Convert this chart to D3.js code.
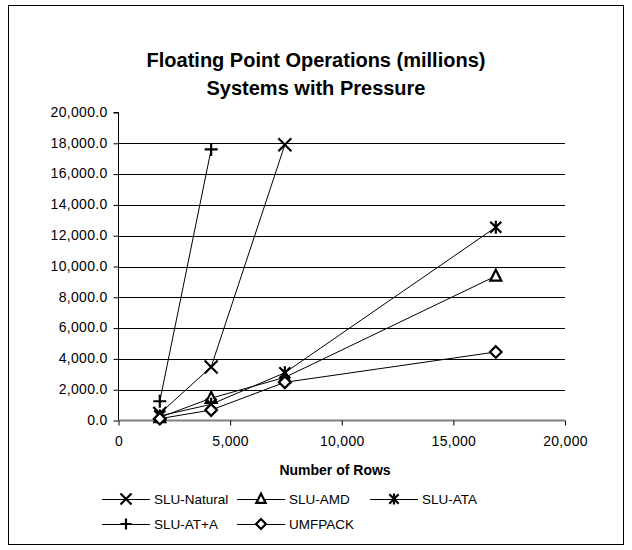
<!DOCTYPE html>
<html>
<head>
<meta charset="utf-8">
<script src="https://cdn.jsdelivr.net/npm/d3@7"></script>
<style>
  html, body { margin: 0; padding: 0; background: #fff; }
  svg { display: block; font-family: "Liberation Sans", Arial, sans-serif; }
</style>
</head>
<body>
<svg id="chart" width="632" height="550"></svg>
<script>
// Number of rows in each test system
const rows = [1850, 4150, 7450, 16900];

// Floating point operations (millions) per ordering; null = not run
const sluNatural = [450, 3480, 17900, null];
const sluAMD     = [200, 1450, 2800, 9380];
const sluATA     = [300, 1050, 3100, 12550];
const sluATplusA = [1250, 17600, null, null];
const umfpack    = [120, 680, 2480, 4450];

const seriesNames = ["SLU-Natural", "SLU-AMD", "SLU-ATA", "SLU-AT+A", "UMFPACK"];
const seriesMarkers = ["x", "triangle", "asterisk", "plus", "diamond"];
const seriesValues = [sluNatural, sluAMD, sluATA, sluATplusA, umfpack];

const xTicks = [0, 5000, 10000, 15000, 20000];
const yTicks = [0, 2000, 4000, 6000, 8000, 10000, 12000, 14000, 16000, 18000, 20000];

const titleLines = ["Floating Point Operations (millions)", "Systems with Pressure"];
const xTitle = "Number of Rows";

const svg = d3.select("#chart");

// outer chart frame
svg.append("rect")
  .attr("x", 8.5).attr("y", 5.5)
  .attr("width", 615).attr("height", 539)
  .attr("fill", "#fff").attr("stroke", "#000").attr("stroke-width", 1);

const plot = { left: 118.5, right: 565, top: 112.5, bottom: 420.5 };

const x = d3.scaleLinear().domain([0, 20000]).range([plot.left, plot.right]);
const y = d3.scaleLinear().domain([0, 20000]).range([plot.bottom, plot.top]);

// title
svg.append("g").selectAll("text").data(titleLines).join("text")
  .attr("x", 316).attr("y", (d, i) => 67 + i * 28)
  .attr("text-anchor", "middle")
  .attr("font-size", 20).attr("font-weight", "bold")
  .text(d => d);

// horizontal gridlines
svg.append("g").selectAll("line").data(yTicks.filter(v => v > 0 && v < 20000)).join("line")
  .attr("x1", plot.left).attr("x2", plot.right)
  .attr("y1", d => Math.round(y(d)) + 0.5).attr("y2", d => Math.round(y(d)) + 0.5)
  .attr("stroke", "#000").attr("stroke-width", 1);

// y axis
const yAxis = d3.axisLeft(y).tickValues(yTicks).tickSize(5).tickPadding(6)
  .tickFormat(d => d3.format(",.1f")(d));
const gy = svg.append("g").attr("transform", `translate(${plot.left},0)`).call(yAxis);
gy.selectAll("text").attr("font-size", 14).attr("fill", "#000")
  .attr("letter-spacing", 0.3).attr("dy", "0.27em")
  .attr("font-family", "Liberation Sans, Arial, sans-serif");
gy.selectAll("line").attr("stroke", "#000");
gy.select(".domain").attr("stroke", "#000").attr("d", `M-5,${plot.top}H0V${plot.bottom}`);

// x axis
const xAxis = d3.axisBottom(x).tickValues(xTicks).tickSize(5).tickPadding(11)
  .tickFormat(d3.format(","));
const gx = svg.append("g").attr("transform", `translate(0,${plot.bottom})`).call(xAxis);
gx.selectAll("text").attr("font-size", 14).attr("fill", "#000")
  .attr("letter-spacing", 0.3)
  .attr("font-family", "Liberation Sans, Arial, sans-serif");
gx.selectAll("line").attr("stroke", "#000");
gx.select(".domain").attr("stroke", "#808080").attr("stroke-width", 2)
  .attr("d", `M${plot.left},0H${plot.right}`);

svg.append("text")
  .attr("x", 335).attr("y", 475)
  .attr("text-anchor", "middle").attr("font-size", 14).attr("font-weight", "bold")
  .text(xTitle);

// marker shapes
function drawMarker(g, type, cx, cy, k) {
  const s = 6.5 * k;
  const st = { stroke: "#000", "stroke-width": 2.2, fill: "none" };
  const apply = sel => { Object.entries(st).forEach(([a, v]) => sel.attr(a, v)); return sel; };
  if (type === "x") {
    apply(g.append("path").attr("d",
      `M${cx - s},${cy - s}L${cx + s},${cy + s}M${cx - s},${cy + s}L${cx + s},${cy - s}`));
  } else if (type === "plus") {
    apply(g.append("path").attr("d",
      `M${cx - s},${cy}L${cx + s},${cy}M${cx},${cy - s}L${cx},${cy + s}`));
  } else if (type === "asterisk") {
    const a = 5.5 * k;
    apply(g.append("path").attr("d",
      `M${cx - a},${cy - a}L${cx + a},${cy + a}M${cx - a},${cy + a}L${cx + a},${cy - a}M${cx},${cy - s}L${cx},${cy + s}`));
  } else if (type === "triangle") {
    const t = 5.5 * k;
    apply(g.append("path").attr("d",
      `M${cx},${cy - t * 1.15}L${cx + t},${cy + t * 0.85}L${cx - t},${cy + t * 0.85}Z`)).attr("fill", "#fff");
  } else if (type === "diamond") {
    const d = 5.8 * k;
    apply(g.append("path").attr("d",
      `M${cx},${cy - d}L${cx + d},${cy}L${cx},${cy + d}L${cx - d},${cy}Z`)).attr("fill", "#fff");
  }
}

const line = d3.line()
  .defined(d => d.v !== null)
  .x(d => x(d.r)).y(d => y(d.v));

const seriesG = svg.append("g");
seriesValues.forEach(vals => {
  const pts = rows.map((r, j) => ({ r, v: vals[j] }));
  seriesG.append("path").datum(pts)
    .attr("d", line).attr("fill", "none")
    .attr("stroke", "#000").attr("stroke-width", 1);
});
seriesValues.forEach((vals, i) => {
  const g = seriesG.append("g");
  rows.forEach((r, j) => {
    if (vals[j] !== null) drawMarker(g, seriesMarkers[i], x(r), y(vals[j]), 1);
  });
});

// legend
const legendPos = [
  { x: 102, y: 499 }, { x: 237, y: 499 }, { x: 370, y: 499 },
  { x: 102, y: 524 }, { x: 237, y: 524 }
];
const lg = svg.append("g");
seriesNames.forEach((name, i) => {
  const p = legendPos[i];
  lg.append("line")
    .attr("x1", p.x).attr("x2", p.x + 48)
    .attr("y1", p.y + 0.5).attr("y2", p.y + 0.5)
    .attr("stroke", "#000").attr("stroke-width", 1);
  drawMarker(lg.append("g"), seriesMarkers[i], p.x + 24, p.y, 0.85);
  lg.append("text")
    .attr("x", p.x + 52).attr("y", p.y + 5)
    .attr("font-size", 13.5).text(name);
});
</script>
</body>
</html>
